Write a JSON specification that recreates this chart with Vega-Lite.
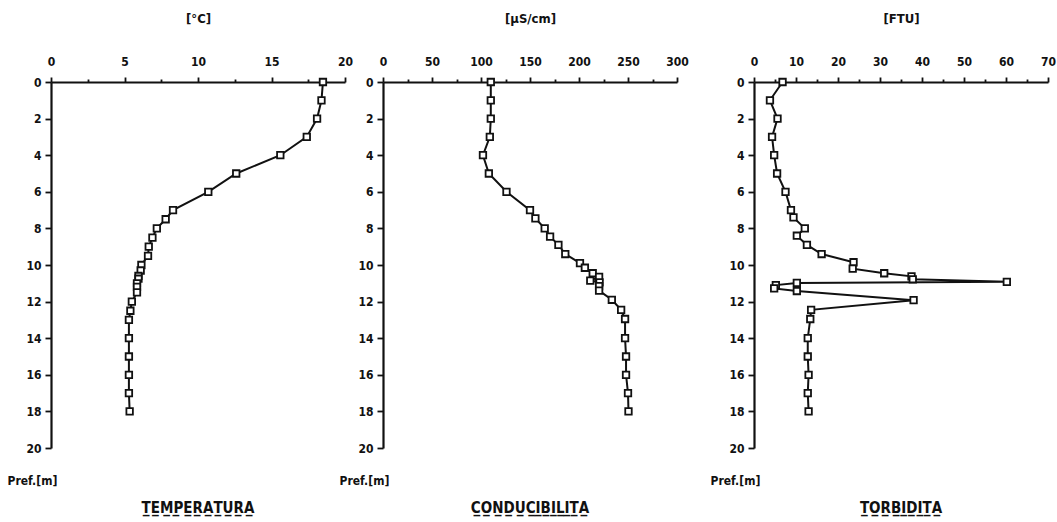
{
  "$schema": "https://vega.github.io/schema/vega-lite/v6.json",
  "padding": {"left": 7, "top": 12, "right": 2, "bottom": 2},
  "background": "white",
  "config": {
    "view": {"stroke": null},
    "font": "Liberation Sans Narrow, DejaVu Sans Condensed, Liberation Sans, sans-serif",
    "axis": {
      "grid": false,
      "domainColor": "#111",
      "domainWidth": 2.2,
      "tickColor": "#111",
      "tickWidth": 1.8,
      "labelFontSize": 12,
      "labelFontWeight": "bold",
      "labelColor": "#111",
      "titleFontSize": 13,
      "titleFontWeight": "bold",
      "titleColor": "#111",
      "labelFlush": false,
      "labelOverlap": false
    },
    "axisX": {
      "orient": "top",
      "labelPadding": 9,
      "titlePadding": 30
    },
    "axisY": {
      "labelPadding": 4,
      "values": [0,1,2,3,4,5,6,7,8,9,10,11,12,13,14,15,16,17,18,19,20],
      "labelExpr": "datum.value % 2 === 0 ? datum.label : ''",
      "tickSize": {"condition": {"test": "datum.value % 2 === 0", "value": 6}, "value": 3},
      "titleAngle": 0,
      "titleAlign": "left",
      "titleBaseline": "middle",
      "titleFontSize": 12,
      "titleX": -44,
      "titleY": 398
    },
    "title": {"fontSize": 15, "fontWeight": "bold", "color": "#111", "orient": "bottom", "offset": 15, "anchor": "middle", "frame": "group"}
  },
  "datasets": {
    "temp": [
      {"depth": 0, "value": 18.5}, {"depth": 1, "value": 18.4}, {"depth": 2, "value": 18.1},
      {"depth": 3, "value": 17.4}, {"depth": 4, "value": 15.6}, {"depth": 5, "value": 12.6},
      {"depth": 6, "value": 10.7}, {"depth": 7, "value": 8.3}, {"depth": 7.5, "value": 7.8},
      {"depth": 8, "value": 7.2}, {"depth": 8.5, "value": 6.9}, {"depth": 9, "value": 6.65},
      {"depth": 9.5, "value": 6.6}, {"depth": 10, "value": 6.15}, {"depth": 10.3, "value": 6.1},
      {"depth": 10.6, "value": 5.95}, {"depth": 10.75, "value": 5.95}, {"depth": 11, "value": 5.85},
      {"depth": 11.2, "value": 5.85}, {"depth": 11.5, "value": 5.85}, {"depth": 12, "value": 5.5},
      {"depth": 12.5, "value": 5.4}, {"depth": 13, "value": 5.3}, {"depth": 14, "value": 5.3},
      {"depth": 15, "value": 5.3}, {"depth": 16, "value": 5.3}, {"depth": 17, "value": 5.3},
      {"depth": 18, "value": 5.35}
    ],
    "cond": [
      {"depth": 0, "value": 110}, {"depth": 1, "value": 110}, {"depth": 2, "value": 110},
      {"depth": 3, "value": 109}, {"depth": 4, "value": 102}, {"depth": 5, "value": 108},
      {"depth": 6, "value": 126}, {"depth": 7, "value": 150}, {"depth": 7.45, "value": 155.5},
      {"depth": 8, "value": 165}, {"depth": 8.45, "value": 170.5}, {"depth": 8.9, "value": 179},
      {"depth": 9.4, "value": 186}, {"depth": 9.9, "value": 201}, {"depth": 10.15, "value": 206},
      {"depth": 10.45, "value": 214}, {"depth": 10.65, "value": 220.5}, {"depth": 10.85, "value": 211.5},
      {"depth": 10.95, "value": 221}, {"depth": 11.15, "value": 220.5}, {"depth": 11.4, "value": 220.5},
      {"depth": 11.9, "value": 233.5}, {"depth": 12.45, "value": 243}, {"depth": 12.95, "value": 247},
      {"depth": 14, "value": 247}, {"depth": 15, "value": 248}, {"depth": 16, "value": 248},
      {"depth": 17, "value": 250}, {"depth": 18, "value": 250.5}
    ],
    "turb": [
      {"depth": 0, "value": 6.8}, {"depth": 1, "value": 3.8}, {"depth": 2, "value": 5.6},
      {"depth": 3, "value": 4.3}, {"depth": 4, "value": 4.8}, {"depth": 5, "value": 5.5},
      {"depth": 6, "value": 7.5}, {"depth": 7, "value": 8.8}, {"depth": 7.4, "value": 9.4},
      {"depth": 8, "value": 12.1}, {"depth": 8.4, "value": 10.2}, {"depth": 8.9, "value": 12.6},
      {"depth": 9.4, "value": 16.1}, {"depth": 9.85, "value": 23.7}, {"depth": 10.2, "value": 23.5},
      {"depth": 10.45, "value": 31}, {"depth": 10.62, "value": 37.5}, {"depth": 10.78, "value": 37.8},
      {"depth": 10.92, "value": 60.2}, {"depth": 10.98, "value": 10.2}, {"depth": 11.1, "value": 5.2},
      {"depth": 11.28, "value": 4.8}, {"depth": 11.42, "value": 10.2}, {"depth": 11.92, "value": 38},
      {"depth": 12.45, "value": 13.6}, {"depth": 12.95, "value": 13.4}, {"depth": 14, "value": 12.8},
      {"depth": 15, "value": 12.8}, {"depth": 16, "value": 13}, {"depth": 17, "value": 12.8},
      {"depth": 18, "value": 13}
    ]
  },
  "bounds": "flush",
  "spacing": 38,
  "hconcat": [
    {
      "width": 294,
      "height": 366,
      "title": {"text": "T\u0332E\u0332M\u0332P\u0332E\u0332R\u0332A\u0332T\u0332U\u0332R\u0332A\u0332"},
      "data": {"name": "temp"},
      "encoding": {
        "x": {"field": "value", "type": "quantitative", "scale": {"domain": [0, 20], "nice": false},
          "axis": {"title": "[°C]", "values": [0, 2.5, 5, 7.5, 10, 12.5, 15, 17.5, 20],
            "labelExpr": "datum.value % 5 === 0 ? datum.label : ''",
            "tickSize": {"condition": {"test": "datum.value % 5 === 0", "value": 5}, "value": 3}}},
        "y": {"field": "depth", "type": "quantitative", "scale": {"domain": [0, 20], "reverse": true, "nice": false},
          "axis": {"title": "Pref.[m]"}},
        "order": {"field": "depth"}
      },
      "layer": [
        {"mark": {"type": "line", "color": "#111", "strokeWidth": 2}},
        {"mark": {"type": "point", "shape": "square", "filled": true, "fill": "white", "stroke": "#111", "strokeWidth": 1.8, "size": 42, "opacity": 1}}
      ]
    },
    {
      "width": 294,
      "height": 366,
      "title": {"text": "C\u0332O\u0332N\u0332D\u0332U\u0332C\u0332I\u0332B\u0332I\u0332L\u0332I\u0332T\u0332A\u0332"},
      "data": {"name": "cond"},
      "encoding": {
        "x": {"field": "value", "type": "quantitative", "scale": {"domain": [0, 300], "nice": false},
          "axis": {"title": "[µS/cm]", "values": [0, 25, 50, 75, 100, 125, 150, 175, 200, 225, 250, 275, 300],
            "labelExpr": "datum.value % 50 === 0 ? datum.label : ''",
            "tickSize": {"condition": {"test": "datum.value % 50 === 0", "value": 5}, "value": 3}}},
        "y": {"field": "depth", "type": "quantitative", "scale": {"domain": [0, 20], "reverse": true, "nice": false},
          "axis": {"title": "Pref.[m]"}},
        "order": {"field": "depth"}
      },
      "layer": [
        {"mark": {"type": "line", "color": "#111", "strokeWidth": 2}},
        {"mark": {"type": "point", "shape": "square", "filled": true, "fill": "white", "stroke": "#111", "strokeWidth": 1.8, "size": 42, "opacity": 1}}
      ]
    },
    {
      "width": 0.01,
      "height": 366,
      "data": {"values": []},
      "mark": {"type": "point"},
      "encoding": {}
    },
    {
      "width": 294,
      "height": 366,
      "title": {"text": "T\u0332O\u0332R\u0332B\u0332I\u0332D\u0332I\u0332T\u0332A\u0332"},
      "data": {"name": "turb"},
      "encoding": {
        "x": {"field": "value", "type": "quantitative", "scale": {"domain": [0, 70], "nice": false},
          "axis": {"title": "[FTU]", "values": [0, 5, 10, 15, 20, 25, 30, 35, 40, 45, 50, 55, 60, 65, 70],
            "labelExpr": "datum.value % 10 === 0 ? datum.label : ''",
            "tickSize": {"condition": {"test": "datum.value % 10 === 0", "value": 5}, "value": 3}}},
        "y": {"field": "depth", "type": "quantitative", "scale": {"domain": [0, 20], "reverse": true, "nice": false},
          "axis": {"title": "Pref.[m]"}},
        "order": {"field": "depth"}
      },
      "layer": [
        {"mark": {"type": "line", "color": "#111", "strokeWidth": 2}},
        {"mark": {"type": "point", "shape": "square", "filled": true, "fill": "white", "stroke": "#111", "strokeWidth": 1.8, "size": 42, "opacity": 1}}
      ]
    }
  ]
}
